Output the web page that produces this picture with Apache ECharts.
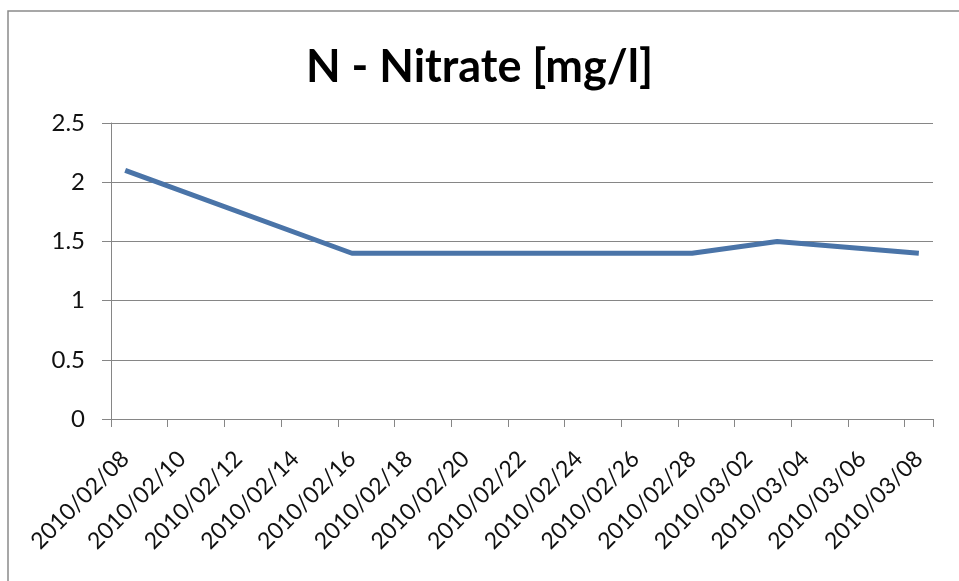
<!DOCTYPE html>
<html>
<head>
<meta charset="utf-8">
<script src="https://cdn.jsdelivr.net/npm/echarts@6/dist/echarts.min.js"></script>
<style>
  html, body { margin: 0; padding: 0; background: #fff; }
  #chart { width: 959px; height: 581px; }
</style>
</head>
<body>
<div id="chart"></div>
<script>
// every day on the axis, 2010/02/08 .. 2010/03/08
const days = [
  "2010/02/08", "2010/02/09", "2010/02/10", "2010/02/11", "2010/02/12",
  "2010/02/13", "2010/02/14", "2010/02/15", "2010/02/16", "2010/02/17",
  "2010/02/18", "2010/02/19", "2010/02/20", "2010/02/21", "2010/02/22",
  "2010/02/23", "2010/02/24", "2010/02/25", "2010/02/26", "2010/02/27",
  "2010/02/28", "2010/03/01", "2010/03/02", "2010/03/03", "2010/03/04",
  "2010/03/05", "2010/03/06", "2010/03/07", "2010/03/08"
];
// measurements
const sampleDates = ["2010/02/08", "2010/02/16", "2010/02/28", "2010/03/03", "2010/03/08"];
const nitrate = [2.1, 1.4, 1.4, 1.5, 1.4];
const yTicks = [0, 0.5, 1, 1.5, 2, 2.5];

// put measurements on their day, other days empty
const seriesData = days.map((d) => {
  const i = sampleDates.indexOf(d);
  return i >= 0 ? nitrate[i] : null;
});

const chart = echarts.init(document.getElementById("chart"));
chart.setOption({
  animation: false,
  backgroundColor: "#fff",
  title: {
    text: "N - Nitrate [mg/l]",
    left: "center",
    top: 40,
    textStyle: {
      fontFamily: "Lato",
      fontWeight: "bold",
      fontSize: 45,
      color: "#000",
    },
  },
  graphic: [
    {
      // chart frame (only top/left visible in the crop)
      type: "rect",
      shape: { x: 8, y: 11, width: 1000, height: 700 },
      style: { fill: null, stroke: "#8a8a8a", lineWidth: 1.5 },
      silent: true,
    },
  ],
  grid: {
    left: 111,
    right: 26,
    top: 123,
    bottom: 162,
  },
  xAxis: {
    type: "category",
    data: days,
    boundaryGap: true,
    axisLine: { lineStyle: { color: "#868686", width: 1 } },
    axisTick: {
      show: true,
      interval: 1,
      alignWithLabel: false,
      length: 8,
      lineStyle: { color: "#868686" },
    },
    axisLabel: {
      interval: 1,
      rotate: 45,
      margin: 36,
      fontFamily: "Lato",
      fontSize: 23,
      color: "#111",
    },
    splitLine: { show: false },
  },
  yAxis: {
    type: "value",
    min: yTicks[0],
    max: yTicks[yTicks.length - 1],
    interval: 0.5,
    axisLine: { show: true, lineStyle: { color: "#868686", width: 1 } },
    axisTick: { show: true, length: 9, lineStyle: { color: "#868686" } },
    axisLabel: {
      margin: 26,
      fontFamily: "Lato",
      fontSize: 24,
      color: "#111",
    },
    splitLine: { lineStyle: { color: "#868686", width: 1 } },
  },
  series: [
    {
      type: "line",
      data: seriesData,
      connectNulls: true,
      showSymbol: false,
      lineStyle: { color: "#4a74a8", width: 5 },
    },
  ],
});
</script>
</body>
</html>
